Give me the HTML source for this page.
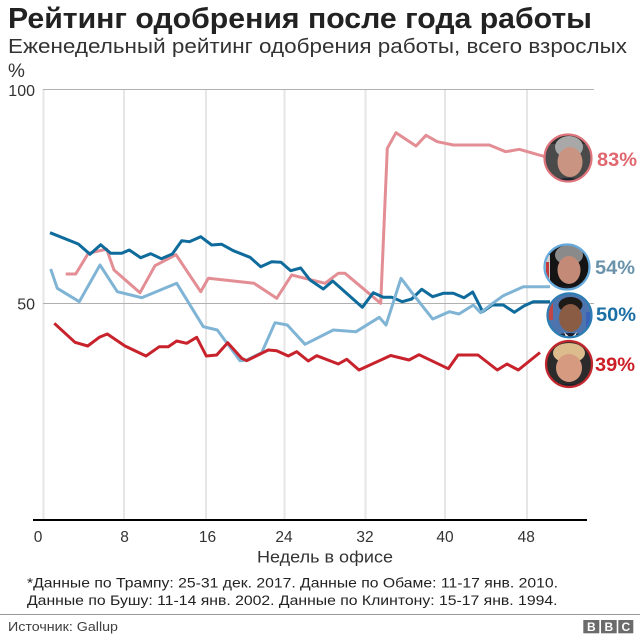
<!DOCTYPE html>
<html>
<head>
<meta charset="utf-8">
<style>
  html, body { margin: 0; padding: 0; background: #ffffff; }
  svg { display: block; }
  text { font-family: "Liberation Sans", "Noto Sans CJK SC", sans-serif; }
</style>
</head>
<body>
<svg width="640" height="640" viewBox="0 0 640 640" xmlns="http://www.w3.org/2000/svg">
  <rect x="0" y="0" width="640" height="640" fill="#ffffff"/>

  <!-- Title -->
  <text x="8" y="28" font-size="29" font-weight="bold" fill="#222" textLength="584" lengthAdjust="spacingAndGlyphs">Рейтинг одобрения после года работы</text>
  <text x="8" y="53" font-size="20.5" fill="#333" textLength="619" lengthAdjust="spacingAndGlyphs">Еженедельный рейтинг одобрения работы, всего взрослых</text>
  <text x="8" y="77" font-size="19" fill="#333">%</text>

  <!-- vertical gridlines -->
  <g stroke="#e6e6e6" stroke-width="2">
    <line x1="43.5" y1="89" x2="43.5" y2="520"/>
    <line x1="124" y1="89" x2="124" y2="520"/>
    <line x1="206" y1="89" x2="206" y2="520"/>
    <line x1="284.5" y1="89" x2="284.5" y2="520"/>
    <line x1="365.5" y1="89" x2="365.5" y2="520"/>
    <line x1="445" y1="89" x2="445" y2="520"/>
    <line x1="527" y1="89" x2="527" y2="520"/>
  </g>
  <!-- horizontal gridlines -->
  <line x1="43" y1="89.5" x2="594" y2="89.5" stroke="#b0b0b0" stroke-width="1"/>
  <line x1="43" y1="303.5" x2="594" y2="303.5" stroke="#b0b0b0" stroke-width="1"/>

  <!-- y labels -->
  <text x="35" y="96" font-size="16" fill="#333" text-anchor="end">100</text>
  <text x="35" y="309.5" font-size="16" fill="#333" text-anchor="end">50</text>

  <!-- series -->
  <g fill="none" stroke-width="3" stroke-linejoin="round" stroke-linecap="butt">
    <polyline stroke="#e38e94" points="65.7,274 75.7,274 88.3,253.3 98.3,251 106.7,249.3 114,270 140,292.7 155,265.7 176,254.7 200.7,291.7 208.3,278.3 254,283.3 276.7,298.3 291.7,275 325,283.3 338.3,273.3 345,273.3 380.7,303.3 387.3,148.3 396,132.7 416,146 426,135.3 437.3,141.7 453.3,145 489.3,145 505.7,151.7 519.3,149.3 545,156.7"/>
    <polyline stroke="#0e6b9c" points="50,232.7 78.3,244 90,254.3 100.7,244.7 110.7,253.3 121.7,253.3 129.3,250 140.7,257.7 150.7,253.7 161.3,258.7 172.3,254 181.7,240.7 189.3,241.7 200.7,236.7 211.7,245 221.7,244.3 233.3,250.7 250,257.3 260.7,266.7 271.7,261.7 281,262.3 290.7,270.7 300.7,268 310,280 323.3,289 332.7,281 362.3,307.3 373.3,292.7 383.3,297.3 391.7,297.3 402.3,301.7 411.7,299 421.7,289.3 432.7,296.7 443.3,293.3 453.3,293.3 464,297.7 472.7,292 482.7,311.7 492.3,305 503.3,305 514.3,312.3 524.3,305.7 533.3,301.7 550,301.7"/>
    <polyline stroke="#80b4d5" points="50.7,269 57.3,288.3 79.3,301.7 100,265 117.3,291.7 141.7,297.7 176.7,283.3 203.3,326.7 217.3,330 240,360.7 246.7,360 261.7,352.7 275,322.7 287.3,325 305,344.3 333.3,330 356,331.7 379.3,317.3 386,325 401,278.3 415,296.7 432.7,319 449.3,311.7 459,314 473.3,305 480.7,312.7 492.7,303.3 503.3,295.7 523.3,286.7 550,286.7"/>
    <polyline stroke="#c8232c" points="54.3,323.3 75,342.3 87.7,346 99.3,337.3 107.3,334 125,346 146,356 159.3,346.7 168.3,346.7 176.7,341 186.7,343.3 196.7,337.3 206.3,356 216.7,355 227.7,342.7 241.7,358.3 246.7,360.7 268.3,350 276.7,350.7 288.3,356 296.7,351.7 308.3,361 316.7,355.7 338.3,364 346.7,359.3 359,370 390.7,355.5 409,360 419,354.7 448.3,368.7 458,355 478,355 497.3,370 507,364 518.3,370 540,352.5"/>
  </g>

  <!-- x axis -->
  <line x1="33" y1="520" x2="587" y2="520" stroke="#000" stroke-width="2"/>
  <g font-size="15.5" fill="#333" text-anchor="middle">
    <text x="38" y="542">0</text>
    <text x="124.5" y="542">8</text>
    <text x="207.5" y="542">16</text>
    <text x="284" y="542">24</text>
    <text x="365" y="542">32</text>
    <text x="445" y="542">40</text>
    <text x="526.3" y="542">48</text>
  </g>
  <text x="257" y="562.5" font-size="16.5" fill="#333" textLength="136" lengthAdjust="spacingAndGlyphs">Недель в офисе</text>

  <!-- portraits -->
  <defs>
    <clipPath id="cB"><circle cx="568" cy="158" r="23.5"/></clipPath>
    <clipPath id="cC"><circle cx="567" cy="267" r="22.5"/></clipPath>
    <clipPath id="cO"><circle cx="569.5" cy="315.3" r="22"/></clipPath>
    <clipPath id="cT"><circle cx="569" cy="364" r="23"/></clipPath>
  </defs>

  <!-- Bush -->
  <g clip-path="url(#cB)">
    <rect x="540" y="130" width="60" height="60" fill="#4a4a4a"/>
    <rect x="540" y="130" width="60" height="14" fill="#2e2e2e"/>
    <ellipse cx="569" cy="147" rx="14" ry="11" fill="#a8a8a8"/>
    <ellipse cx="570" cy="162" rx="12.5" ry="15" fill="#c99582"/>
    <ellipse cx="568" cy="190" rx="24" ry="12" fill="#1e2432"/>
    <polygon points="562,180 570,186 578,180 576,186 564,186" fill="#e8e8e8"/>
  </g>
  <circle cx="568" cy="158" r="23.5" fill="none" stroke="#e0747c" stroke-width="2.2"/>

  <!-- Clinton -->
  <g clip-path="url(#cC)">
    <rect x="540" y="240" width="60" height="60" fill="#141414"/>
    <rect x="544" y="255" width="6" height="30" fill="#d0d0d0"/>
    <rect x="546" y="262" width="3" height="20" fill="#c23a3a"/>
    <ellipse cx="569" cy="255" rx="14" ry="10" fill="#8a8a8a"/>
    <ellipse cx="569" cy="270" rx="11.5" ry="14" fill="#c48a78"/>
    <ellipse cx="568" cy="296" rx="24" ry="10" fill="#1a1e28"/>
  </g>
  <circle cx="567" cy="267" r="22.5" fill="none" stroke="#66aadc" stroke-width="2.2"/>

  <!-- Obama -->
  <g clip-path="url(#cO)">
    <rect x="545" y="290" width="50" height="50" fill="#4d74ad"/>
    <rect x="545" y="300" width="8" height="20" fill="#c04545"/>
    <rect x="586" y="312" width="8" height="22" fill="#3a62b8"/>
    <ellipse cx="570.5" cy="305" rx="12" ry="8" fill="#1e1a18"/>
    <ellipse cx="570.5" cy="318" rx="11.5" ry="14" fill="#8b5c44"/>
    <ellipse cx="570" cy="343" rx="22" ry="10" fill="#1c2030"/>
    <polygon points="564,332 570.5,338 577,332 575,337 566,337" fill="#eeeeee"/>
  </g>
  <circle cx="569.5" cy="315.3" r="22" fill="none" stroke="#2c7db3" stroke-width="2.2"/>

  <!-- Trump -->
  <g clip-path="url(#cT)">
    <rect x="540" y="338" width="60" height="55" fill="#2b2b2b"/>
    <ellipse cx="569" cy="353" rx="16" ry="10" fill="#dcbb8c"/>
    <ellipse cx="569" cy="368" rx="13" ry="14" fill="#d69a80"/>
    <ellipse cx="569" cy="393" rx="24" ry="9" fill="#1c1f2a"/>
  </g>
  <circle cx="569" cy="364" r="23" fill="none" stroke="#c4282f" stroke-width="2.2"/>

  <!-- value labels -->
  <g font-size="19" font-weight="bold">
    <text x="597" y="166" fill="#e0666f" textLength="40" lengthAdjust="spacingAndGlyphs">83%</text>
    <text x="595" y="274" fill="#6a93ab" textLength="40" lengthAdjust="spacingAndGlyphs">54%</text>
    <text x="596" y="321" fill="#1a6fa5" textLength="40" lengthAdjust="spacingAndGlyphs">50%</text>
    <text x="595" y="371" fill="#cc1f27" textLength="40" lengthAdjust="spacingAndGlyphs">39%</text>
  </g>

  <!-- footnotes -->
  <text x="27" y="587.3" font-size="14" fill="#222" textLength="531" lengthAdjust="spacingAndGlyphs">*Данные по Трампу: 25-31 дек. 2017. Данные по Обаме: 11-17 янв. 2010.</text>
  <text x="27" y="605" font-size="14" fill="#222" textLength="530.5" lengthAdjust="spacingAndGlyphs">Данные по Бушу: 11-14 янв. 2002. Данные по Клинтону: 15-17 янв. 1994.</text>

  <line x1="0" y1="614.5" x2="640" y2="614.5" stroke="#999" stroke-width="1"/>
  <text x="8" y="631" font-size="13" fill="#404040" textLength="110" lengthAdjust="spacingAndGlyphs">Источник: Gallup</text>

  <!-- BBC logo -->
  <g>
    <rect x="583.3" y="620" width="16" height="13.3" fill="#6b6b6b"/>
    <rect x="601" y="620" width="15.7" height="13.3" fill="#6b6b6b"/>
    <rect x="618.3" y="620" width="15" height="13.3" fill="#6b6b6b"/>
    <g font-size="12" font-weight="bold" fill="#ffffff" text-anchor="middle">
      <text x="591.3" y="631">B</text>
      <text x="608.8" y="631">B</text>
      <text x="625.8" y="631">C</text>
    </g>
  </g>
</svg>
</body>
</html>
